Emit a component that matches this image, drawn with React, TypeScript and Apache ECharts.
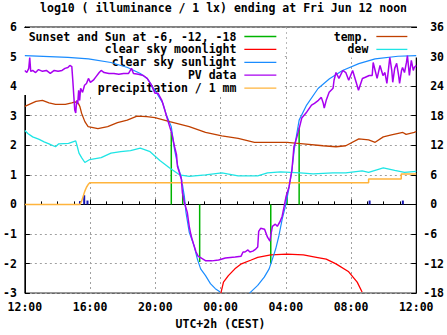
import React, { useEffect, useRef } from "react";
import * as echarts from "echarts";

// hours since Thu 12:00 (0..24)
const sunlightEveningHours = [0, 2.64, 3.9, 5.28, 6.3, 7.08, 7.5, 7.98, 8.46, 8.68, 8.98, 9.18, 9.38, 9.58, 9.78, 9.88, 10.08, 10.38, 10.58, 10.78, 11.08, 11.38, 11.68, 11.98];
const sunlightEveningValues = [5.03, 4.97, 4.92, 4.8, 4.63, 4.43, 4.26, 3.86, 3.42, 3.02, 2.63, 1.85, 1.29, 0.95, 0.28, -0.27, -0.94, -1.4, -1.85, -2.18, -2.41, -2.68, -2.85, -2.96];
const sunlightMorningHours = [13.78, 14.28, 14.68, 14.98, 15.18, 15.38, 15.58, 15.78, 15.98, 16.18, 16.38, 16.52, 16.68, 16.82, 17.28, 17.98, 18.68, 19.48, 20.48, 21.48, 22.88, 24];
const sunlightMorningValues = [-3.0, -2.74, -2.46, -2.18, -1.85, -1.51, -1.06, -0.5, -0.06, 0.5, 1.17, 1.85, 2.4, 2.85, 3.36, 3.92, 4.25, 4.53, 4.76, 4.92, 5.01, 5.03];

const moonHours = [12.02, 12.18, 12.48, 12.88, 13.28, 13.88, 14.28, 15.08, 16.08, 17.08, 17.88, 18.48, 19.08, 19.86, 20.38, 20.68];
const moonValues = [-3.0, -2.63, -2.41, -2.18, -2.01, -1.88, -1.79, -1.71, -1.68, -1.71, -1.79, -1.85, -2.01, -2.28, -2.63, -2.96];

const sunEventHours = [8.98, 9.68, 10.72, 15.08, 16.08, 16.82];
const sunEventValues = [2.45, 0.4, -1.95, -2.0, 0.4, 2.6];

const pvHours = [0, 0.12, 0.24, 0.3, 0.36, 0.48, 0.66, 0.84, 1.08, 1.32, 1.56, 1.8, 2.04, 2.28, 2.46, 2.64, 2.76, 2.88, 2.94, 3.0, 3.06, 3.12, 3.18, 3.24, 3.3, 3.36, 3.42, 3.54, 3.66, 3.78, 3.9, 4.02, 4.2, 4.38, 4.56, 4.68, 4.86, 5.16, 5.46, 5.76, 6.06, 6.36, 6.54, 6.66, 6.96, 7.26, 7.5, 7.74, 7.98, 8.16, 8.4, 8.58, 8.76, 9.0, 9.18, 9.3, 9.36, 9.48, 9.6, 9.66, 9.78, 9.96, 10.08, 10.2, 10.38, 10.5, 10.62, 10.8, 11.1, 11.46, 11.88, 12.3, 12.9, 13.26, 13.38, 13.5, 13.68, 13.8, 13.98, 14.16, 14.28, 14.34, 14.46, 14.7, 14.88, 15.03, 15.09, 15.18, 15.36, 15.48, 15.66, 15.78, 15.9, 16.02, 16.2, 16.38, 16.5, 16.68, 16.8, 16.98, 17.28, 17.58, 17.76, 18.0, 18.18, 18.3, 18.36, 18.48, 18.66, 18.9, 18.96, 19.08, 19.26, 19.5, 19.68, 19.86, 20.1, 20.28, 20.46, 20.7, 20.88, 21.12, 21.3, 21.36, 21.48, 21.6, 21.78, 21.96, 22.08, 22.2, 22.38, 22.5, 22.56, 22.68, 22.8, 22.92, 22.98, 23.1, 23.16, 23.28, 23.4, 23.46, 23.58, 23.7, 23.82, 23.88, 24.0];
const pvValues = [4.53, 4.46, 4.6, 4.97, 4.5, 4.53, 4.46, 4.56, 4.5, 4.53, 4.43, 4.53, 4.5, 4.53, 4.6, 4.63, 4.7, 4.66, 4.2, 3.69, 3.19, 3.09, 3.52, 3.39, 3.86, 3.52, 3.93, 3.79, 4.03, 4.09, 4.26, 4.13, 4.2, 4.33, 4.46, 4.53, 4.46, 4.43, 4.43, 4.4, 4.43, 4.43, 4.6, 4.43, 4.4, 4.36, 4.26, 4.06, 3.76, 3.76, 3.52, 3.19, 2.85, 2.42, 1.95, 1.68, 1.28, 1.07, 0.84, 0.4, 0.07, -0.27, -0.74, -1.07, -1.41, -1.61, -1.75, -1.81, -1.91, -1.91, -1.88, -1.81, -1.78, -1.75, -1.61, -1.61, -1.54, -1.61, -1.58, -1.51, -1.44, -0.91, -0.81, -0.84, -1.11, -1.24, -1.01, -0.74, -0.67, -0.74, -0.57, -0.4, -0.07, 0.27, 0.6, 1.17, 1.95, 2.28, 2.52, 2.92, 3.12, 3.36, 3.42, 3.52, 3.62, 3.42, 3.26, 3.52, 3.79, 3.93, 4.2, 4.46, 4.26, 4.53, 4.46, 4.2, 4.53, 4.2, 3.86, 4.26, 4.3, 4.36, 4.36, 4.8, 4.53, 4.26, 4.7, 4.36, 4.46, 4.09, 4.97, 4.53, 4.13, 4.6, 4.77, 4.36, 4.09, 4.53, 4.63, 4.46, 4.8, 5.03, 4.36, 4.87, 4.53, 4.63, 4.7];

const precipHours = [0, 3.38, 3.48, 3.58, 3.68, 3.78, 3.88, 3.98, 21.08, 21.08, 23.08, 23.08, 24];
const precipValues = [0, 0, 0.11, 0.28, 0.45, 0.58, 0.67, 0.73, 0.73, 0.86, 0.86, 1.03, 1.03];
const rainBarHours = [3.38, 3.64, 3.84, 21.14, 23.18];
const rainBarValues = [0.11, 0.31, 0.13, 0.13, 0.13];

const tempHours = [0, 0.68, 1.08, 1.48, 1.88, 2.48, 2.88, 3.08, 3.28, 3.38, 3.48, 3.68, 3.88, 4.48, 5.08, 5.68, 6.28, 6.88, 7.48, 7.98, 8.88, 10.08, 11.08, 12.08, 13.08, 14.08, 16.08, 17.08, 18.28, 19.08, 19.68, 20.48, 21.08, 21.48, 21.98, 22.48, 23.18, 23.38, 23.88, 24];
const tempValues = [19.9, 20.9, 21.1, 20.6, 20.3, 20.3, 20.6, 20.8, 20.5, 19.8, 18.5, 16.8, 15.8, 15.4, 15.8, 16.6, 17.1, 17.9, 17.8, 17.6, 16.8, 15.8, 14.6, 13.9, 13.4, 12.6, 12.6, 12.3, 11.9, 11.7, 11.9, 13.3, 13.1, 12.6, 13.7, 14.1, 14.6, 14.2, 14.6, 14.8];

const dewHours = [0, 0.18, 0.48, 0.88, 1.18, 1.48, 1.88, 2.08, 2.68, 3.12, 3.22, 3.32, 3.48, 3.68, 3.98, 4.68, 5.28, 5.88, 6.48, 7.08, 7.68, 8.28, 8.88, 9.48, 10.08, 11.08, 12.08, 13.08, 14.28, 14.88, 15.68, 16.88, 17.68, 18.88, 19.68, 20.68, 21.08, 21.98, 22.68, 23.28, 24];
const dewValues = [15.0, 14.4, 13.7, 13.2, 12.7, 12.3, 11.7, 12.3, 12.4, 12.9, 11.7, 10.4, 9.5, 8.5, 9.1, 9.5, 10.4, 10.7, 10.9, 11.4, 10.7, 8.9, 7.4, 6.0, 5.7, 6.0, 6.4, 5.8, 5.8, 6.4, 6.6, 6.4, 6.2, 6.4, 6.4, 6.8, 6.5, 7.4, 6.9, 6.5, 6.7];

const TITLE = "log10 ( illuminance / 1 lx) ending at Fri Jun 12 noon";
const X_NAME = "UTC+2h (CEST)";
const N_SUN = "Sunset and Sun at -6, -12, -18";
const N_MOON = "clear sky moonlight";
const N_SUNLIGHT = "clear sky sunlight";
const N_PV = "PV data";
const N_PRECIP = "precipitation / 1 mm";
const N_TEMP = "temp.";
const N_DEW = "dew";

const FONT = "'DejaVu Sans Mono', 'Liberation Mono', monospace";
const FS = 11.5;

const zip = (hs: number[], vs: number[]) => hs.map((h, i) => [h, vs[i]]);

export default function App() {
  const ref = useRef<HTMLDivElement>(null);
  useEffect(() => {
    if (!ref.current) return;
    const chart = echarts.init(ref.current, null, { renderer: "svg" });
    const txt = { fontFamily: FONT, fontWeight: "bold" as const, fontSize: FS, color: "#000" };

    const sunData: any[] = [];
    sunEventHours.forEach((h, i) => {
      sunData.push([h, 0], [h, sunEventValues[i]], [h, "-"]);
    });
    const sunlightData: any[] = [
      ...zip(sunlightEveningHours, sunlightEveningValues),
      [12.9, "-"],
      ...zip(sunlightMorningHours, sunlightMorningValues),
    ];

    const line = (name: string, data: any[], color: string, width: number, yAxisIndex = 0, z = 2) => ({
      type: "line",
      name,
      data,
      yAxisIndex,
      symbol: "none",
      z,
      lineStyle: { color, width },
      itemStyle: { color },
      connectNulls: false,
    });

    const legendCommon = {
      orient: "vertical",
      align: "right",
      top: 28,
      itemHeight: 12,
      itemGap: 0.9,
      backgroundColor: "#fff",
      z: 1,
      selectedMode: false,
      itemStyle: { opacity: 0 },
      lineStyle: { width: 1.3 },
      textStyle: { ...txt, lineHeight: 12, padding: [0, 3, 0, 0] },
    };

    chart.setOption({
      animation: false,
      title: {
        text: TITLE,
        left: "center",
        top: 1,
        padding: 0,
        textStyle: { ...txt, lineHeight: 13 },
      },
      grid: { left: 22, right: 25, top: 27, bottom: 40, show: true, borderColor: "#000", borderWidth: 1 },
      legend: [
        {
          ...legendCommon,
          data: [N_SUN, N_MOON, N_SUNLIGHT, N_PV, N_PRECIP],
          right: 164,
          padding: [2.5, 6, 1, 8],
          itemWidth: 32,
        },
        {
          ...legendCommon,
          data: [N_TEMP, N_DEW],
          right: 25,
          padding: [2.5, 14, 2, 47],
          itemWidth: 31,
        },
      ],
      xAxis: {
        type: "value",
        min: 0,
        max: 24,
        interval: 4,
        axisLine: { show: true, lineStyle: { color: "#000", width: 1 } },
        axisTick: { show: true, inside: true, length: 5, lineStyle: { color: "#000" } },
        minorTick: { show: true, splitNumber: 4, length: 3, lineStyle: { color: "#000" } },
        splitLine: { show: true, lineStyle: { color: "#a0a0a0", type: [2, 3], width: 1 } },
        axisLabel: {
          ...txt,
          margin: 8,
          formatter: (v: number) => String((12 + v) % 24).padStart(2, "0") + ":00",
        },
        name: X_NAME,
        nameLocation: "middle",
        nameGap: 18,
        nameTextStyle: txt,
      },
      yAxis: [
        {
          type: "value",
          min: -3,
          max: 6,
          interval: 1,
          position: "left",
          axisLine: { show: true, lineStyle: { color: "#000", width: 1 } },
          axisTick: { show: true, inside: true, length: 5, lineStyle: { color: "#000" } },
          splitLine: { show: true, lineStyle: { color: "#a0a0a0", type: [2, 3], width: 1 } },
          axisLabel: { ...txt, margin: 8 },
        },
        {
          type: "value",
          min: -18,
          max: 36,
          interval: 6,
          position: "right",
          axisLine: { show: true, lineStyle: { color: "#000", width: 1 } },
          axisTick: { show: true, inside: true, length: 5, lineStyle: { color: "#000" } },
          splitLine: { show: false },
          axisLabel: {
            ...txt,
            margin: 7,
            formatter: (v: number) => (v >= 0 ? "\u00a0" + v : String(v)),
          },
        },
      ],
      series: [
        line(N_SUN, sunData, "#00b400", 1.5),
        line(N_MOON, zip(moonHours, moonValues), "#ff0000", 1.3),
        line(N_SUNLIGHT, sunlightData, "#1a8cff", 1.2),
        line(N_PV, zip(pvHours, pvValues), "#a800f0", 1.5, 0, 3),
        line(N_PRECIP, zip(precipHours, precipValues), "#ffb43c", 1.5),
        {
          type: "bar",
          name: "rain",
          data: zip(rainBarHours, rainBarValues),
          barWidth: 2,
          itemStyle: { color: "#1414b4" },
          yAxisIndex: 0,
          z: 2,
        },
        line(N_TEMP, zip(tempHours, tempValues), "#c04000", 1.3, 1),
        line(N_DEW, zip(dewHours, dewValues), "#1ee5e5", 1.3, 1),
      ],
    });
    return () => chart.dispose();
  }, []);
  return <div ref={ref} style={{ position: "absolute", left: 0, top: 0, width: 447, height: 335 }} />;
}
